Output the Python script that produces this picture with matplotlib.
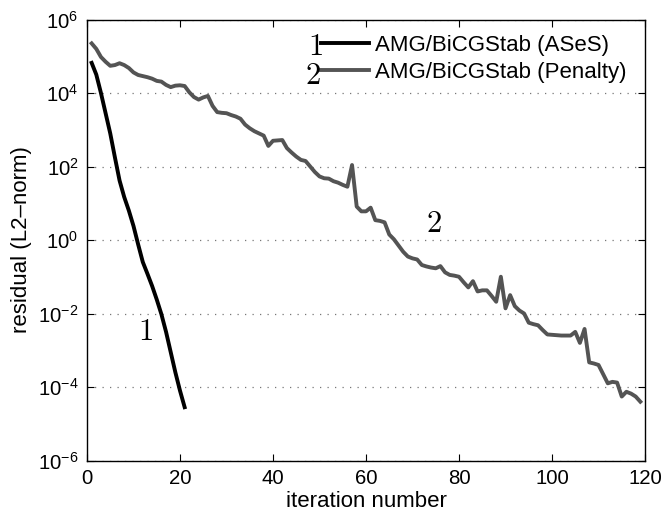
import numpy as np
import matplotlib
matplotlib.use("Agg")
import matplotlib.pyplot as plt

plt.rcParams['font.family'] = ['Liberation Sans', 'DejaVu Sans']
plt.rcParams['mathtext.fontset'] = 'cm'

# ---- data (log10 of residual) ----
iters_ases = list(range(1, 22))
log_res_ases = [4.82, 4.50, 4.00, 3.45, 2.90, 2.25, 1.62, 1.17, 0.80, 0.38,
                -0.12, -0.60, -0.92, -1.25, -1.62, -2.02, -2.50, -3.05, -3.60,
                -4.10, -4.55]

iters_pen = list(range(1, 120))
log_res_pen = [5.35, 5.20, 4.98, 4.85, 4.74, 4.76, 4.81, 4.76, 4.68, 4.56,
               4.49, 4.46, 4.43, 4.39, 4.33, 4.31, 4.22, 4.16, 4.20, 4.21,
               4.19, 4.02, 3.89, 3.82, 3.88, 3.92, 3.65, 3.48, 3.46, 3.45,
               3.40, 3.36, 3.30, 3.14, 3.04, 2.96, 2.90, 2.84, 2.56, 2.70,
               2.71, 2.72, 2.50, 2.38, 2.27, 2.18, 2.15, 2.00, 1.85, 1.73,
               1.68, 1.67, 1.60, 1.56, 1.50, 1.45, 2.04, 0.91, 0.78, 0.78,
               0.88, 0.54, 0.52, 0.48, 0.15, 0.02, -0.15, -0.32, -0.45, -0.50,
               -0.53, -0.68, -0.72, -0.75, -0.77, -0.71, -0.88, -0.95, -0.97, -1.00,
               -1.15, -1.29, -1.12, -1.40, -1.37, -1.37, -1.52, -1.68, -1.00, -1.86,
               -1.50, -1.80, -1.92, -2.00, -2.25, -2.29, -2.32, -2.45, -2.57, -2.58,
               -2.59, -2.60, -2.60, -2.60, -2.50, -2.80, -2.42, -3.33, -3.36, -3.40,
               -3.65, -3.90, -3.86, -3.88, -4.26, -4.13, -4.18, -4.26, -4.40]

labels = ["AMG/BiCGStab (ASeS)", "AMG/BiCGStab (Penalty)"]
xticks = [0, 20, 40, 60, 80, 100, 120]
yticks = [1e-6, 1e-4, 1e-2, 1e0, 1e2, 1e4, 1e6]

res_ases = 10.0 ** np.array(log_res_ases)
res_pen = 10.0 ** np.array(log_res_pen)

W, H = 663, 519
fig = plt.figure(figsize=(W / 100, H / 100), dpi=100)
ax = fig.add_axes([87 / W, 1 - 460.5 / H, (645 - 87) / W, (460.5 - 19.5) / H])

l1, = ax.semilogy(iters_ases, res_ases, color='black', lw=2.8, label=labels[0],
                  solid_joinstyle='round')
l2, = ax.semilogy(iters_pen, res_pen, color='#545454', lw=2.8, label=labels[1],
                  solid_joinstyle='round')

ax.set_xlim(0, 120)
ax.set_ylim(1e-6, 1e6)
ax.set_xticks(xticks)
ax.set_yticks(yticks)
ax.minorticks_off()
ax.tick_params(which='both', direction='in', top=True, right=True,
               length=5, width=0.8, labelsize=14.7, pad=6)
ax.yaxis.grid(True, linestyle=(0, (1, 5)), color='#777777', lw=0.9)
for s in ax.spines.values():
    s.set_linewidth(1.0)

ax.set_xlabel("iteration number", fontsize=16, labelpad=2)
ax.set_ylabel("residual (L2\u2013norm)", fontsize=16, labelpad=4)

leg = ax.legend(handles=[l1, l2], loc='upper left', frameon=False,
                borderaxespad=0, borderpad=0, fontsize=16,
                handlelength=2.15, handletextpad=0.3, labelspacing=0.26)
leg.set_bbox_to_anchor((321 / W, 1 - 35 / H), transform=fig.transFigure)

# curve number labels
ax.text(12.5, 10 ** -2.5, r'$1$', fontsize=22, ha='center', va='center')
ax.text(74.5, 10 ** 0.44, r'$2$', fontsize=22, ha='center', va='center')
fig.text(315 / W, 1 - 47 / H, r'$1$', fontsize=22, ha='center', va='center')
fig.text(313 / W, 1 - 76 / H, r'$2$', fontsize=22, ha='center', va='center')

fig.savefig("out.png", dpi=100)
